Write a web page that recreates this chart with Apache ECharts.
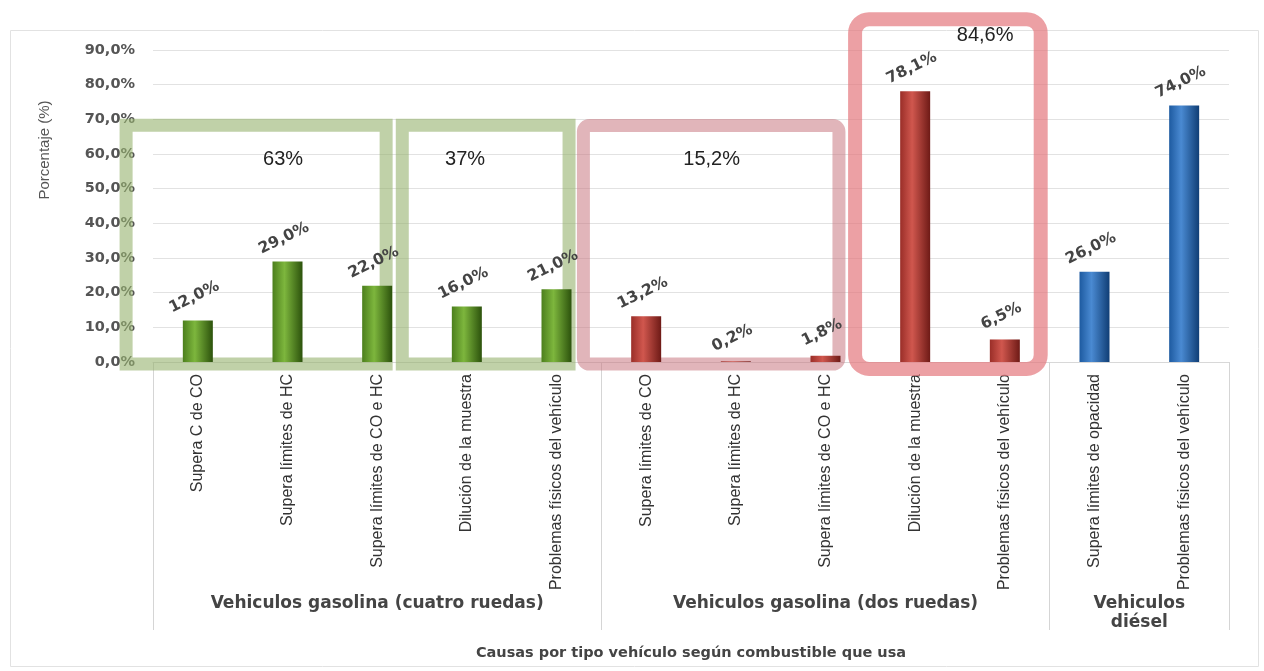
<!DOCTYPE html>
<html>
<head>
<meta charset="utf-8">
<script src="https://cdn.jsdelivr.net/npm/echarts@6/dist/echarts.min.js"></script>
<style>html,body{margin:0;padding:0;background:#fff;}#c{width:1264px;height:671px;}</style>
</head>
<body>
<div id="c"></div>
<script>
// ---- data ----
const categories = [
  'Supera C de CO', 'Supera límites de HC', 'Supera límites de CO e HC', 'Dilución de la muestra', 'Problemas físicos del vehículo',
  'Supera límites de CO', 'Supera límites de HC', 'Supera límites de CO e HC', 'Dilución de la muestra', 'Problemas físicos del vehículo',
  'Supera límites de opacidad', 'Problemas físicos del vehículo'
];
const values = [12.0, 29.0, 22.0, 16.0, 21.0, 13.2, 0.2, 1.8, 78.1, 6.5, 26.0, 74.0];
const groupNames = ['Vehiculos gasolina (cuatro ruedas)', 'Vehiculos gasolina (dos ruedas)', 'Vehiculos\ndiésel'];
const groupSizes = [5, 5, 2];
const yTicks = [0, 10, 20, 30, 40, 50, 60, 70, 80, 90];
const boxLabels = ['63%', '37%', '15,2%', '84,6%'];
const yAxisTitle = 'Porcentaje (%)';
const xAxisTitle = 'Causas por tipo vehículo según combustible que usa';

// ---- styling ----
const grad = (l, m, r) => ({type: 'linear', x: 0, y: 0, x2: 1, y2: 0,
  colorStops: [{offset: 0, color: l}, {offset: 0.4, color: m}, {offset: 1, color: r}]});
const groupColors = [
  grad('#4c7f1d', '#7db63d', '#2c520c'),
  grad('#9a2e28', '#d0574e', '#6e1a16'),
  grad('#1d5aa0', '#4a8ad2', '#103e75')
];
const itemGroup = [];
groupSizes.forEach((n, g) => { for (let i = 0; i < n; i++) itemGroup.push(g); });
const groupBounds = [0];
groupSizes.forEach(n => groupBounds.push(groupBounds[groupBounds.length - 1] + n));
const groupCenters = groupSizes.map((n, g) => groupBounds[g] + n / 2);

const fmt = v => v.toFixed(1).replace('.', ',') + '%';
const boldFont = '"DejaVu Sans", Verdana, sans-serif';

const chart = echarts.init(document.getElementById('c'));
chart.setOption({
  animation: false,
  backgroundColor: '#fff',
  grid: {left: 153, right: 35, top: 50, bottom: 309, containLabel: false},
  xAxis: [{
    type: 'category',
    data: categories,
    axisLine: {show: true, lineStyle: {color: '#d8d8d8'}},
    axisTick: {show: false},
    axisLabel: {rotate: 90, margin: 12, interval: 0, color: '#333',
      fontFamily: '"Liberation Sans Narrow", "Liberation Sans", Arial, sans-serif', fontSize: 16}
  }, {
    type: 'value',
    min: 0, max: groupBounds[groupBounds.length - 1],
    position: 'bottom',
    axisLine: {show: false},
    splitLine: {show: false},
    axisTick: {show: true, customValues: groupBounds, length: 268, lineStyle: {color: '#d5d5d5', width: 1}},
    axisLabel: {customValues: groupCenters, margin: 232, color: '#444', lineHeight: 19,
      fontFamily: boldFont, fontWeight: 'bold', fontSize: 17,
      formatter: v => groupNames[groupCenters.indexOf(v)] || ''},
    name: xAxisTitle, nameLocation: 'middle', nameGap: 284,
    nameTextStyle: {color: '#444', fontFamily: boldFont, fontWeight: 'bold', fontSize: 14.5}
  }],
  yAxis: {
    type: 'value', min: yTicks[0], max: yTicks[yTicks.length - 1], interval: yTicks[1] - yTicks[0],
    axisLine: {show: false}, axisTick: {show: false},
    splitLine: {lineStyle: {color: '#e2e2e2'}},
    axisLabel: {margin: 18, color: '#555', fontFamily: boldFont, fontWeight: 'bold', fontSize: 14.5,
      formatter: fmt}
  },
  series: [{
    type: 'bar',
    xAxisIndex: 0,
    barWidth: 30,
    z: 5,
    data: values.map((v, i) => ({value: v, itemStyle: {color: groupColors[itemGroup[i]]}})),
    label: {show: true, position: 'top', distance: 16, rotate: 26, color: '#444',
      fontFamily: boldFont, fontWeight: 'bold', fontSize: 15.5,
      formatter: p => fmt(p.value)}
  }]
});

// ---- annotations (positioned through axis coordinates) ----
const px = x => chart.convertToPixel({xAxisIndex: 1}, x);
const py = y => chart.convertToPixel({yAxisIndex: 0}, y);
const boxes = [
  {x0: -0.3, x1: 2.6, y0: 68.3, y1: -0.6, color: 'rgba(150,178,110,0.6)', w: 13, r: 0},
  {x0: 2.78, x1: 4.64, y0: 68.3, y1: -0.6, color: 'rgba(150,178,110,0.6)', w: 13, r: 0},
  {x0: 4.8, x1: 7.65, y0: 68.2, y1: -0.6, color: 'rgba(200,120,130,0.55)', w: 13, r: 6},
  {x0: 7.83, x1: 9.9, y0: 98.9, y1: -2.0, color: 'rgba(228,120,125,0.7)', w: 14, r: 14}
];
const boxTextPos = [[1.45, 58.3], [3.48, 58.3], [6.23, 58.3], [9.28, 94.3]];
const graphics = [];
boxes.forEach(b => {
  const x0 = px(b.x0), x1 = px(b.x1), y0 = py(b.y0), y1 = py(b.y1);
  graphics.push({type: 'rect', z: 1, shape: {x: x0, y: y0, width: x1 - x0, height: y1 - y0, r: b.r},
    style: {fill: 'none', stroke: b.color, lineWidth: b.w}});
});
boxLabels.forEach((t, i) => {
  graphics.push({type: 'text', z: 20, x: px(boxTextPos[i][0]), y: py(boxTextPos[i][1]),
    style: {text: t, fill: '#222', font: '20px "Liberation Sans", Arial, sans-serif', align: 'center', verticalAlign: 'middle'}});
});
graphics.push({type: 'text', z: 20, x: 45, y: 150, rotation: Math.PI / 2,
  style: {text: yAxisTitle, fill: '#555', font: '15px "Liberation Sans Narrow", "Liberation Sans", Arial, sans-serif', align: 'center', verticalAlign: 'middle'}});
graphics.push({type: 'rect', z: 0, shape: {x: 10.5, y: 30.5, width: 1248, height: 636},
  style: {fill: 'none', stroke: '#e2e2e2', lineWidth: 1}});
chart.setOption({graphic: graphics});
</script>
</body>
</html>
